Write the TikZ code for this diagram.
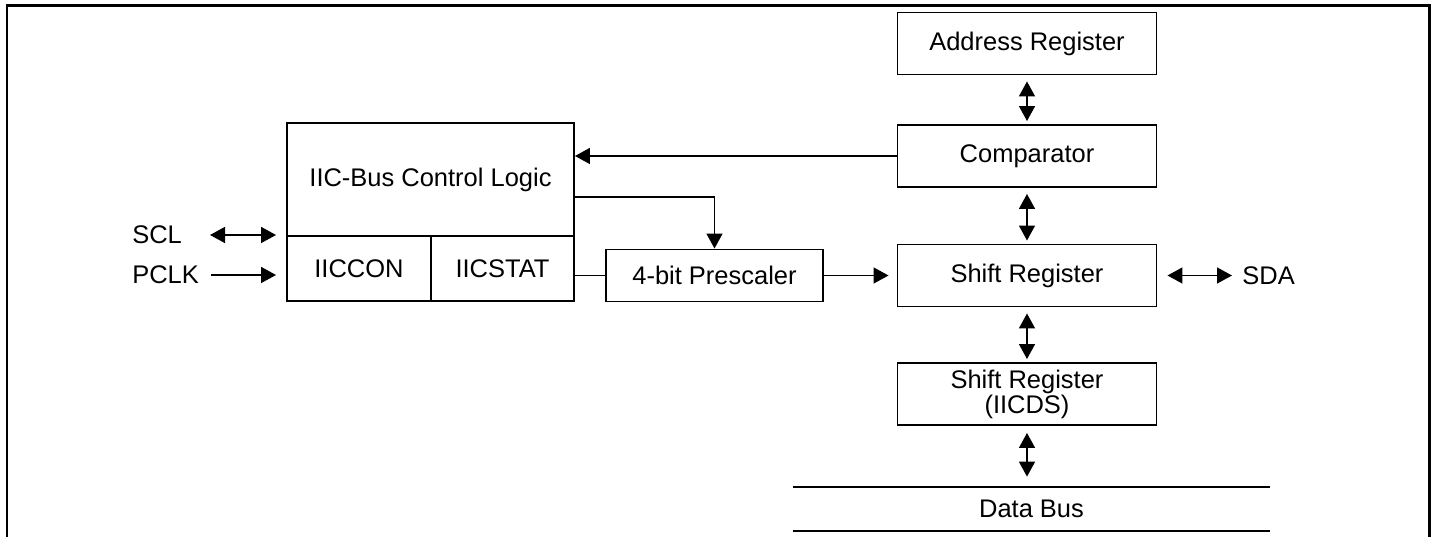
\documentclass[tikz,border=0pt]{standalone}
\usepackage{fontspec}
\setmainfont{Liberation Sans}
\usetikzlibrary{arrows.meta}

\begin{document}
\begin{tikzpicture}[
        font=\fontsize{14.5pt}{14.3pt}\selectfont,
        box/.style={draw, line width=1.1pt, inner sep=0pt, align=center},
        reg/.style={box, minimum width=5.18cm, minimum height=1.24cm},
        wire/.style={line width=0.85pt},
        onearrow/.style={-{Triangle[length=0.3cm,width=0.32cm]}},
        biarrow/.style={{Triangle[length=0.3cm,width=0.32cm]}-{Triangle[length=0.3cm,width=0.32cm]}},
        lbl/.style={anchor=west, inner sep=0pt}
    ]
        \useasboundingbox (0,0) rectangle (28.74,10.74);

        % Outer frame (open at the bottom)
        \draw[line width=1.7pt] (0.14,0) -- (0.14,10.62) -- (28.58,10.62) -- (28.58,0);

        % Register column
        \node[reg] (addr) at (20.54,9.87) {Address Register};
        \node[reg] (cmp) at (20.54,7.62) {Comparator};
        \node[reg] (shift) at (20.54,5.23) {Shift Register};
        \node[reg] (ids) at (20.54,2.86) {Shift Register\\(IICDS)};

        % Control logic block
        \node[box, minimum width=5.74cm, minimum height=2.26cm] (ctrl) at (8.61,7.15) {IIC-Bus Control Logic};
        \node[box, minimum width=2.88cm, minimum height=1.30cm] (con) at (7.18,5.37) {IICCON};
        \node[box, minimum width=2.86cm, minimum height=1.30cm] (stat) at (10.05,5.37) {IICSTAT};

        % Prescaler
        \node[box, minimum width=4.34cm, minimum height=1.04cm] (pre) at (14.29,5.23) {4-bit Prescaler};

        % Data bus
        \node[minimum width=9.54cm, minimum height=0.88cm, inner sep=0pt] (bus) at (20.63,0.56) {Data Bus};
        \draw[line width=1.1pt] (bus.north west) -- (bus.north east);
        \draw[line width=1.1pt] (bus.south west) -- (bus.south east);

        % Pins
        \node[lbl] (scl) at (2.64,6.04) {SCL};
        \node[lbl] (pclk) at (2.64,5.24) {PCLK};
        \node[lbl] (sda) at (24.84,5.23) {SDA};
        \coordinate (sclin) at (4.20,6.04);
        \coordinate (pclkin) at (4.22,5.24);
        \draw[wire, biarrow, shorten >=0.2cm] (sclin) -- (sclin -| ctrl.west);
        \draw[wire, onearrow, shorten >=0.2cm] (pclkin) -- (pclkin -| con.west);
        \draw[wire, biarrow, shorten <=0.2cm, shorten >=0.2cm] (shift.east) -- (sda.west);

        % Connections
        \draw[wire, onearrow] (cmp.west) -- (cmp.west -| ctrl.east);
        \coordinate (brk) at ([yshift=-0.35cm]ctrl.east);
        \draw[wire, onearrow] (brk) -| (pre.north);
        \draw[wire] (pre.west) -- (pre.west -| stat.east);
        \draw[wire, onearrow, shorten >=0.16cm] (pre.east) -- (shift.west);
        \foreach \a/\b in {addr/cmp, cmp/shift, shift/ids}
            \draw[wire, biarrow, shorten <=0.12cm, shorten >=0.06cm] (\a.south) -- (\b.north);
        \draw[wire, biarrow, shorten <=0.14cm, shorten >=0.2cm] (ids.south) -- (ids.south |- bus.north);
    \end{tikzpicture}
\end{document}
